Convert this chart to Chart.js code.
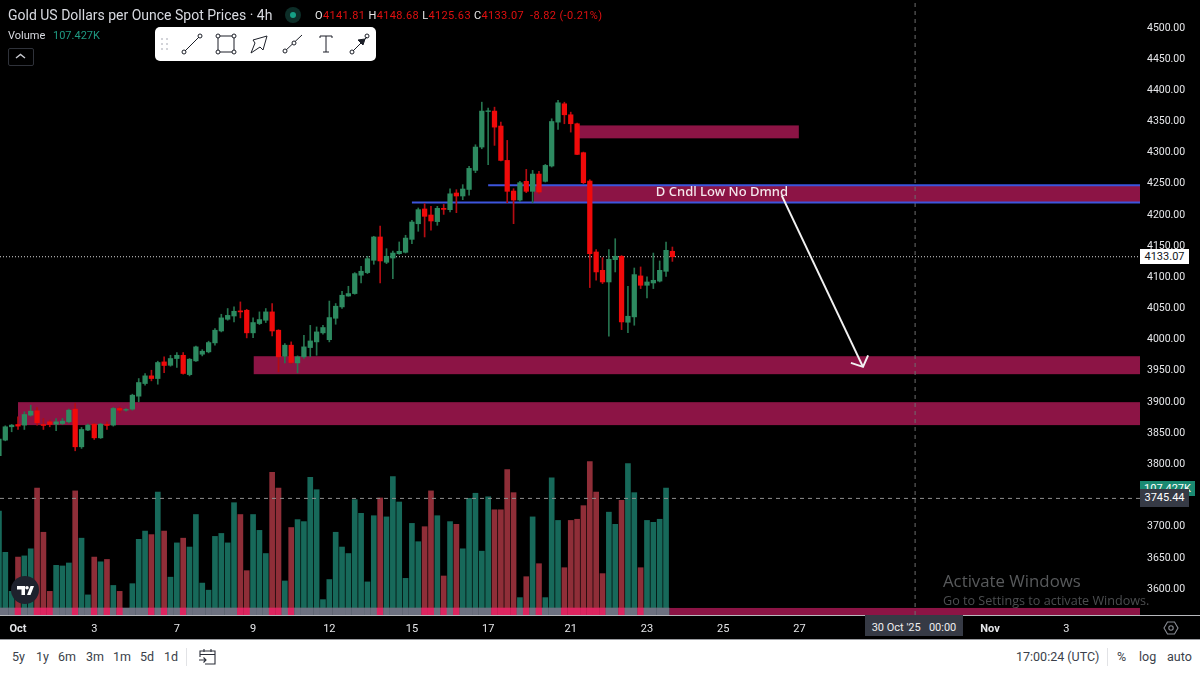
<!DOCTYPE html>
<html>
<head>
<meta charset="utf-8">
<title>Gold 4h</title>
<script src="https://cdn.jsdelivr.net/npm/chart.js@4"></script>
<style>
  html, body { margin: 0; padding: 0; background: #000; overflow: hidden; }
  #wrap { position: relative; width: 1200px; height: 674px; font-family: Roboto, sans-serif; }
  canvas { position: absolute; left: 0; top: 0; }
  .abs { position: absolute; white-space: nowrap; line-height: 1; }
  .tag { position: absolute; left: 1140px; width: 49px; text-align: center; font-size: 11px; }
  .ohlc b { font-weight: 400; color: #e8e8e8; }
  .range span { position: absolute; top: 651px; font-size: 12.5px; color: #3b3f4a; line-height: 1; }
</style>
</head>
<body>
<div id="wrap">
  <canvas id="chart" width="1200" height="674"></canvas>

  <div class="abs" style="left:8px;top:8px;font-size:14px;color:#d8dae0">Gold US Dollars per Ounce Spot Prices · 4h</div>
  <div class="abs" style="left:285px;top:7px;width:16px;height:16px;border-radius:8px;background:#0d2e28"></div>
  <div class="abs" style="left:290px;top:12px;width:6px;height:6px;border-radius:3px;background:#15a085"></div>
  <div class="abs ohlc" style="left:315px;top:10px;font-size:11px;color:#e01010;letter-spacing:.35px"><b>O</b>4141.81 <b>H</b>4148.68 <b>L</b>4125.63 <b>C</b>4133.07 &nbsp;-8.82 (-0.21%)</div>
  <div class="abs" style="left:8px;top:30px;font-size:11px;color:#d8dae0">Volume</div>
  <div class="abs" style="left:53px;top:30px;font-size:11px;color:#1f9a82">107.427K</div>
  <div class="abs" style="left:8px;top:48px;width:24px;height:16px;border:1px solid #2f323a;border-radius:2px"></div>
  <svg class="abs" style="left:15px;top:53px" width="12" height="7"><path d="M1 5 L5.5 1.5 L10 5" fill="none" stroke="#c8cad0" stroke-width="1.4"/></svg>

  <div class="abs" style="left:155px;top:27px;width:221px;height:34px;background:#fff;border-radius:5px"></div>
  <svg class="abs" style="left:155px;top:27px" width="221" height="34" fill="none" stroke="#1c1f28" stroke-width="1">
    <g fill="#c4c6cc" stroke="none"><circle cx="7" cy="12" r="1"/><circle cx="12" cy="12" r="1"/><circle cx="7" cy="17" r="1"/><circle cx="12" cy="17" r="1"/><circle cx="7" cy="22" r="1"/><circle cx="12" cy="22" r="1"/></g>
    <path d="M30 24 L44 10"/><circle cx="29" cy="25" r="2"/><circle cx="45" cy="9" r="2"/>
    <rect x="63" y="9" width="16" height="16"/><g fill="#fff"><circle cx="63" cy="9" r="2"/><circle cx="79" cy="9" r="2"/><circle cx="63" cy="25" r="2"/><circle cx="79" cy="25" r="2"/></g>
    <path d="M96 26 L100 16 L98 13 L112 9 L108 23 L105 20 Z"/>
    <path d="M129 25 L147 8"/><circle cx="130" cy="24" r="2" fill="#fff"/><circle cx="139" cy="16" r="2" fill="#fff"/>
    <path d="M165 9 H177 M171 9 V25 M168 25 H174 M165 9 V11 M177 9 V11"/>
    <path d="M198 24 L212 10"/><circle cx="197" cy="25" r="2"/><circle cx="212" cy="9" r="2"/><path d="M203 13 L210 12 L208 18 Z" fill="#1c1f28"/>
  </svg>

  <svg class="abs" style="left:11px;top:576px" width="28" height="28"><circle cx="14" cy="14" r="14" fill="#1e222d"/><path d="M6 10 H14 V19 H10.5 V13.5 H6 Z M16 19 L19.5 10 H23 L19.5 19 Z" fill="#fff"/><circle cx="16" cy="11.8" r="1.8" fill="#fff"/></svg>

  <div class="abs" style="left:943px;top:573px;font-size:16.8px;font-family:'Open Sans',sans-serif;color:#585a5c">Activate Windows</div>
  <div class="abs" style="left:943px;top:595px;font-size:12.6px;font-family:'Open Sans',sans-serif;color:#4c4e50">Go to Settings to activate Windows.</div>

  <!-- price scale tags -->
  <div class="tag" style="top:481px;width:55px;height:15px;line-height:15px;background:#1a8a72;color:#fff;overflow:hidden">107.427K</div>
  <div class="tag" style="top:489px;height:18px;line-height:18px;background:#363a45;color:#fff">3745.44</div>
  <div class="tag" style="top:249px;height:15px;line-height:15px;background:#fff;color:#131722">4133.07</div>

  <div class="abs" style="left:0;top:615px;width:1200px;height:1px;background:#b6b8bc"></div>
  <div class="abs" style="left:865px;top:615px;width:98px;height:21px;line-height:25px;background:#363a45;color:#eee;font-size:11px;text-align:center;white-space:pre;overflow:hidden">30 Oct '25   00:00</div>
  <svg class="abs" style="left:1163px;top:620px" width="16" height="16" fill="none" stroke="#8a8d95" stroke-width="1.1"><path d="M4.5 2 H11.5 L15 8 L11.5 14 H4.5 L1 8 Z"/><circle cx="8" cy="8" r="2.2"/></svg>

  <!-- bottom bar -->
  <div class="abs" style="left:0;top:639px;width:1200px;height:35px;background:#fff;border-top:1px solid #9a9ca0;box-sizing:border-box"></div>
  <div class="range">
    <span style="left:12px">5y</span><span style="left:36px">1y</span><span style="left:58px">6m</span><span style="left:86px">3m</span><span style="left:113px">1m</span><span style="left:140px">5d</span><span style="left:164px">1d</span>
    <span style="left:1016px;font-size:12.5px">17:00:24 (UTC)</span><span style="left:1117px">%</span><span style="left:1139px">log</span><span style="left:1167px">auto</span>
  </div>
  <div class="abs" style="left:186px;top:648px;width:1px;height:18px;background:#e2e3e6"></div>
  <div class="abs" style="left:1107px;top:648px;width:1px;height:18px;background:#e2e3e6"></div>
  <svg class="abs" style="left:198px;top:648px" width="19" height="18" fill="none" stroke="#2a2e39" stroke-width="1.1"><path d="M2 9 V3 H17 V16 H7 M2 6.5 H17 M6 1 V4 M13 1 V4 M1 12 H8 M5.5 9.5 L8 12 L5.5 14.5"/></svg>
</div>

<script>
const candleOpen = [3813.8,3838.9,3860.3,3864,3863,3879,3886,3864,3868.3,3864.5,3865.6,3868.3,3888.6,3828.2,3855,3864.5,3842.6,3864,3863,3889.7,3887,3888.6,3909.4,3929.7,3942,3937.7,3964.4,3959,3969.8,3975,3944,3966,3976.7,3980.5,3994.9,4014,4032.8,4038,4046.2,4047.2,4011,4025.9,4031.2,4044.6,4015.2,3973.5,3991.2,3962.8,3972.5,3987.4,3996.5,4011,4000,4034.4,4052.6,4070,4074,4103.4,4107.6,4127.4,4164.8,4124.2,4131,4138,4140.2,4161,4186,4209.7,4200,4189.4,4210.7,4208.6,4235.3,4230.5,4241,4271.6,4309,4366,4366.7,4342.7,4287.6,4238.5,4224,4254,4238,4265.7,4254,4278.6,4349,4378.4,4360.8,4346.4,4300,4254.5,4140.7,4111.3,4092.6,4128.4,4133.8,4028,4036.6,4102.3,4087.3,4091,4094,4109.7,4141.81];
const candleHigh = [3844,3861.9,3864,3876.3,3884.3,3895,3891.3,3873.6,3871,3873.6,3873.6,3888.6,3897.7,3859.2,3864.5,3865.6,3865.6,3868.3,3891.3,3892.3,3889.7,3912.6,3937.7,3945.7,3951,3965.5,3972.5,3975,3979.4,3979.4,3969.8,3989.6,3984,3997.6,4017.9,4040.8,4050,4052.6,4060.6,4048.8,4035,4044.6,4050,4058,4016,3993.8,3996.5,3974,4007,4023,4020.5,4023.2,4062,4058,4077.7,4085.7,4107.6,4117.8,4133.8,4165.9,4182.4,4146,4142.3,4156.8,4167.5,4191.5,4211.3,4218.2,4213.9,4213.9,4217,4242.2,4240.6,4248.7,4278,4312.7,4381,4371.5,4373,4349,4319.7,4242.2,4254,4273.2,4271.6,4270,4281.2,4354.4,4383.8,4381,4365,4347.5,4301,4256.6,4144.5,4131.6,4144.5,4162,4135,4085.7,4115,4116.7,4100.7,4139,4126.3,4156.7,4148.68];
const candleLow = [3812.2,3837.8,3852.3,3856,3856,3877.4,3863,3856,3860.3,3853.9,3864,3866.7,3821.8,3825.6,3853.9,3840,3841.6,3856,3861.4,3882.7,3885.4,3887,3900.3,3927,3934,3928.6,3947.3,3957.5,3955.4,3944.7,3942,3965,3974,3978.9,3991.2,4012.5,4031.2,4028.6,4035,4002.9,4003.4,4024.3,4027.5,4006,3948.4,3962.8,3961.8,3946.8,3969.8,3972.5,3975,4008.8,3996.5,4024.8,4050,4069.7,4073,4091,4106,4121,4091,4122,4098,4137,4139,4154,4173.9,4164.8,4175.5,4183.5,4201,4204.9,4203.8,4224.6,4232,4267.9,4306.3,4280.7,4311.7,4286.6,4219.8,4186.1,4221.9,4235.8,4219.8,4234.2,4252.9,4277,4337.3,4346.4,4333,4296.7,4250.2,4083.6,4095.3,4090,4005.6,4108.7,4016.2,4011.4,4023.2,4082,4067,4082,4092.6,4101.7,4125.63];
const candleClose = [3840.5,3860.3,3863,3861.4,3880,3885.4,3866.7,3862.4,3864,3868.3,3869.4,3887,3828.2,3856,3863,3842.6,3864.5,3862.4,3889.7,3887,3888,3911,3931.3,3942,3937.7,3963.4,3958.6,3969.8,3975,3945.8,3968.7,3988.5,3981.5,3995.4,4015.2,4035,4039,4045.6,4044.6,4011,4027.5,4032.3,4044.6,4014,3972.5,3991.2,3963.4,3972.5,3988.5,3998,4012.5,4019.5,4035.5,4053.7,4071.3,4074,4106,4109.8,4130,4164.8,4126.3,4133.8,4139,4141.8,4163,4188.8,4208.6,4197.9,4190.4,4210.7,4209,4234,4230.5,4241.7,4274.8,4309,4366.7,4367.2,4341,4287.6,4238,4224,4251.8,4238,4265.7,4236.9,4279.6,4350,4380,4360.8,4346.4,4297.2,4251.8,4138,4108.7,4092.6,4129,4133.8,4028.5,4037.6,4104.4,4087.3,4092.6,4095.3,4111.3,4143.4,4133.07];
// volume in thousands, the last candle has no bar in the picture
const volume = [88,53,20,49,50,56,107.4,70,20,42,41.5,44,105,65,17,49,45,47,25,20,3,26.5,64,71,68,104,71,32,61,65,57.5,85,27,21,66.5,69,61,95,85,37.5,85,71.6,52,120.7,107.4,28.8,74,80.7,79,116.5,106,13,30,70,57.5,52,97.6,86,28,84,99,83,117,95.6,31,77.5,62,74.7,105,84,33,79,76.7,56,98.7,103,54,100,89,89,123,103.5,14.7,32.4,83,43.4,14.7,116,80,40,80,81,92.5,129.7,104,35,87,76.7,97,128,103.5,40,80,78.4,81,107.4];

const yTickValues = [4500,4450,4400,4350,4300,4250,4200,4150,4100,4050,4000,3950,3900,3850,3800,3750,3700,3650,3600];
const xTickIdx = [3,15,28,40,52,65,77,90,102,114,126,156,168];
const xTickLabels = ['Oct','3','7','9','12','15','17','21','23','25','27','Nov','3'];

// supply / demand zones: bar index where it starts, bar index where it ends, top and bottom price
const zoneStart = [91.1,84.2,40.1,3,105.5];
const zoneEnd = [125.9,180,180,180,180];
const zoneHigh = [4343.7,4247,3973.5,3899.8,3569.7];
const zoneLow = [4323,4220,3944.7,3863,3558.4];

const trendStart = [77,65];
const trendPrice = [4247.6,4219.9];
const lastPrice = 4133.07;
const crossPrice = 3745.44;
const crossIdx = 144.2;
const arrowIdx = [123.2,136];
const arrowPrice = [4231.6,3956.4];
const arrowHeadIdx = [134.1,136,136.8];
const arrowHeadPrice = [3962.8,3956.4,3975];
const noteIdx = 113.8;
const notePrice = 4236;

const xMin = 0.165, xMax = 179.6;
const yMin = 3558.4, yMax = 4544.9;
const volMax = 520.3;
const stripTop = 5.9;

const green = '#2d8a60', greenWick = '#26744f', red = '#f00a0a', redWick = '#b50c12';
const volGreen = '#17695a', volRed = '#8f2e38';
const isDown = candleClose.map((c, i) => c < candleOpen[i]);

const zonesPlugin = {
  id: 'zones',
  beforeDatasetsDraw(chart) {
    const { ctx, scales: { x, y } } = chart;
    ctx.save();
    ctx.fillStyle = '#8c1445';
    zoneStart.forEach((s, i) => {
      const left = x.getPixelForValue(s);
      const right = Math.min(x.getPixelForValue(zoneEnd[i]), 1140);
      const top = y.getPixelForValue(zoneHigh[i]);
      ctx.fillRect(left, top, right - left, y.getPixelForValue(zoneLow[i]) - top);
    });
    ctx.restore();
  },
  afterDatasetsDraw(chart) {
    const { ctx, scales: { x, y } } = chart;
    ctx.save();
    ctx.fillStyle = '#f4e6ec';
    ctx.font = '500 13px "Noto Sans"';
    ctx.textAlign = 'center';
    ctx.textBaseline = 'middle';
    ctx.fillText('D Cndl Low No Dmnd', x.getPixelForValue(noteIdx), y.getPixelForValue(notePrice));
    ctx.restore();
  }
};

function lineSet(points, color, width, dash, order) {
  return { type: 'line', data: points, borderColor: color, borderWidth: width, borderDash: dash,
    pointRadius: 0, tension: 0, yAxisID: 'y', order: order };
}
function barSet(points, colors, thick, axis, order) {
  return { type: 'bar', data: points, backgroundColor: colors, barThickness: thick, grouped: false,
    borderWidth: 0, yAxisID: axis, order: order };
}

const datasets = [
  barSet(volume.map((v, i) => ({ x: i, y: [0, v] })), volume.map((v, i) => isDown[i] ? volRed : volGreen), 5, 'yV', 9),
  barSet(volume.map((v, i) => ({ x: i, y: [0, stripTop] })), volume.map((v, i) => isDown[i] ? '#dd2560' : '#6d7180'), 6, 'yV', 8),
  lineSet([{ x: xMin, y: lastPrice }, { x: xMax, y: lastPrice }], '#d8d8d8', 1, [1, 2], 7),
  lineSet([{ x: xMin, y: crossPrice }, { x: xMax, y: crossPrice }], '#8f8f8f', 1, [4, 4], 7),
  lineSet([{ x: crossIdx, y: yMin }, { x: crossIdx, y: yMax }], '#6e6e6e', 1, [4, 4], 7),
  lineSet([{ x: trendStart[0], y: trendPrice[0] }, { x: xMax, y: trendPrice[0] }], '#3d55dc', 2, [], 6),
  lineSet([{ x: trendStart[1], y: trendPrice[1] }, { x: xMax, y: trendPrice[1] }], '#3d55dc', 2, [], 6),
  barSet(candleHigh.map((h, i) => ({ x: i, y: [candleLow[i], h] })), isDown.map(d => d ? redWick : greenWick), 1, 'y', 3),
  barSet(candleOpen.map((o, i) => ({ x: i, y: [o, candleClose[i]] })), isDown.map(d => d ? red : green), 4.6, 'y', 2),
  lineSet(arrowIdx.map((v, i) => ({ x: v, y: arrowPrice[i] })), '#f2f2f2', 2, [], 1),
  lineSet(arrowHeadIdx.map((v, i) => ({ x: v, y: arrowHeadPrice[i] })), '#f2f2f2', 2, [], 1)
];

new Chart(document.getElementById('chart').getContext('2d'), {
  type: 'bar',
  data: { datasets },
  plugins: [zonesPlugin],
  options: {
    responsive: false,
    animation: false,
    parsing: { xAxisKey: 'x', yAxisKey: 'y' },
    layout: { padding: { left: 0, right: 0, top: 0, bottom: 34 } },
    plugins: { legend: { display: false }, tooltip: { enabled: false } },
    scales: {
      x: {
        type: 'linear', min: xMin, max: xMax, offset: false,
        grid: { display: false, offset: false, drawTicks: false },
        border: { display: false },
        afterBuildTicks(scale) { scale.ticks = xTickIdx.map(v => ({ value: v })); },
        afterFit(scale) { scale.height = 25; scale.paddingLeft = 0; scale.paddingRight = 0; },
        ticks: {
          autoSkip: false, maxRotation: 0, padding: 8, color: '#e4e5e8',
          font: ctx => ({ family: 'Roboto', size: 11, weight: (ctx.tick && ctx.tick.label.length === 3) ? '700' : '400' }),
          callback: v => xTickLabels[xTickIdx.indexOf(v)]
        }
      },
      y: {
        type: 'linear', position: 'right', min: yMin, max: yMax,
        grid: { display: false, drawTicks: false },
        border: { display: false },
        afterBuildTicks(scale) { scale.ticks = yTickValues.map(v => ({ value: v })); },
        afterFit(scale) { scale.width = 60; scale.paddingTop = 0; scale.paddingBottom = 0; },
        ticks: {
          autoSkip: false, padding: 7, color: '#e6e7ea',
          font: { family: 'Roboto', size: 10.5 },
          callback: v => v.toFixed(2)
        }
      },
      yV: { type: 'linear', display: false, position: 'right', min: 0, max: volMax }
    }
  }
});
</script>
</body>
</html>
